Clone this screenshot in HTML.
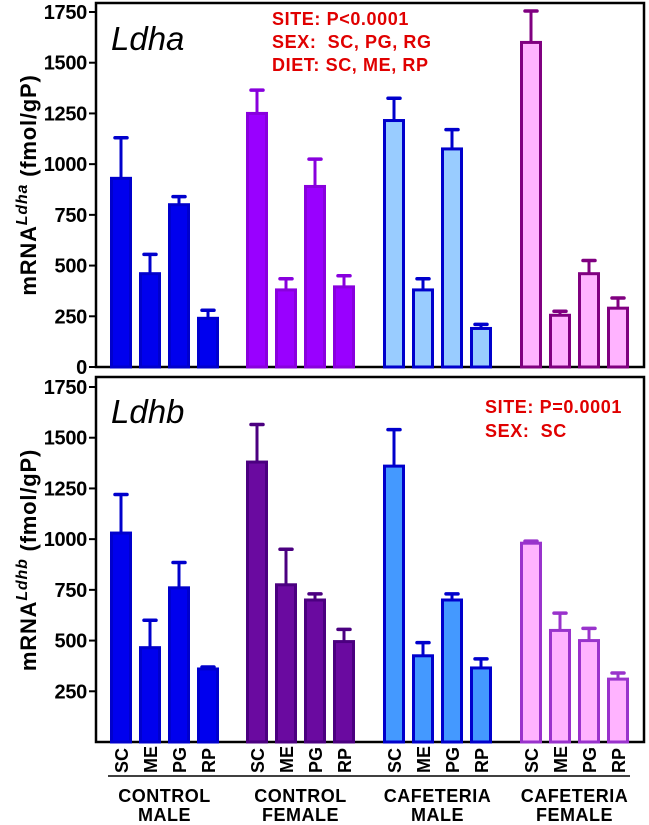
<!DOCTYPE html>
<html><head><meta charset="utf-8">
<style>
html,body{margin:0;padding:0;background:#fff;}
svg{display:block;font-family:"Liberation Sans",Arial,sans-serif;}
</style></head>
<body>
<svg id="chart" width="649" height="825" viewBox="0 0 649 825" xmlns="http://www.w3.org/2000/svg">
<rect x="96" y="3" width="548" height="364" fill="none" stroke="#000" stroke-width="2.5"/>
<rect x="96" y="377" width="548" height="365" fill="none" stroke="#000" stroke-width="2.5"/>
<text x="111" y="50" font-size="33" font-style="italic">Ldha</text>
<text x="111" y="423" font-size="33" font-style="italic">Ldhb</text>
<g fill="#e00000" font-weight="bold" font-size="18" letter-spacing="0.6">
<text x="272" y="25">SITE: P&lt;0.0001</text>
<text x="272" y="48">SEX:&#160; SC, PG, RG</text>
<text x="272" y="71">DIET: SC, ME, RP</text>
</g>
<g fill="#e00000" font-weight="bold" font-size="18" letter-spacing="0.6">
<text x="485" y="413">SITE: P=0.0001</text>
<text x="485" y="437">SEX:&#160; SC</text>
</g>
<text transform="translate(36,185) rotate(-90)" text-anchor="middle" font-weight="bold" font-size="22" letter-spacing="0.8">mRNA<tspan font-style="italic" font-size="16" dy="-9">Ldha</tspan><tspan dy="9"> (fmol/gP)</tspan></text>
<text transform="translate(36,560) rotate(-90)" text-anchor="middle" font-weight="bold" font-size="22" letter-spacing="0.8">mRNA<tspan font-style="italic" font-size="16" dy="-9">Ldhb</tspan><tspan dy="9"> (fmol/gP)</tspan></text>
<g id="plot"></g>
<line x1="108" y1="776" x2="630" y2="776" stroke="#000" stroke-width="1.5"/>
</svg>
<script>
const categories = ["SC","ME","PG","RP"];
const groups = ["CONTROL|MALE","CONTROL|FEMALE","CAFETERIA|MALE","CAFETERIA|FEMALE"];
const ldhaMeans = [[930,460,800,240],[1250,380,890,395],[1215,380,1075,190],[1600,255,460,290]];
const ldhaErr = [[200,95,40,40],[115,55,135,55],[110,55,95,20],[155,20,65,50]];
const ldhbMeans = [[1030,465,760,360],[1380,775,700,495],[1360,425,700,365],[980,550,500,310]];
const ldhbErr = [[190,135,125,10],[185,175,30,60],[180,65,30,45],[10,85,60,30]];
const yTicks = [0,250,500,750,1000,1250,1500,1750];

const NS="http://www.w3.org/2000/svg";
const plot=document.getElementById('plot');
const groupStart=[110,246,383,520], pitch=29, bw=22;
function mk(t,a){const e=document.createElementNS(NS,t);for(const k in a)e.setAttribute(k,a[k]);plot.appendChild(e);return e;}
const panels=[
 {base:367,name:'ldha',means:ldhaMeans,err:ldhaErr,
  styles:[{f:'#0000ee',s:'#0000cc'},{f:'#9900ff',s:'#8800dd'},{f:'#99ccff',s:'#0000cc'},{f:'#ffb3ff',s:'#800080'}]},
 {base:742,name:'ldhb',means:ldhbMeans,err:ldhbErr,
  styles:[{f:'#0000ee',s:'#0000cc'},{f:'#6a0aa0',s:'#4b0080'},{f:'#4499ff',s:'#0000cc'},{f:'#ffb3ff',s:'#9933cc'}]}
];
const k=355/1750;
panels.forEach(p=>{
 const y=v=>p.base-v*k;
 yTicks.forEach(t=>{
  if(p.name==='ldhb'&&t===0)return;
  const l=mk('line',{x1:89,x2:96,y1:y(t),y2:y(t),stroke:'#000','stroke-width':2});
  
  
  const tx=mk('text',{x:87,y:y(t)+7,'text-anchor':'end','font-size':20,'font-weight':'bold','letter-spacing':'-0.3'});
  tx.textContent=t;
  
  
 });
 p.means.forEach((g,gi)=>{
  const st=p.styles[gi];
  g.forEach((v,ci)=>{
   const x=groupStart[gi]+ci*pitch, cx=x+bw/2, top=y(v), et=y(v+p.err[gi][ci]);
   const el=mk('line',{x1:cx,x2:cx,y1:top,y2:et,stroke:st.s,'stroke-width':3});
   
   
   const cap=mk('line',{x1:cx-6,x2:cx+6,y1:et,y2:et,stroke:st.s,'stroke-width':3.5,'stroke-linecap':'round'});
   
   
   const r=mk('rect',{x:x+1.5,y:top,width:bw-3,height:p.base-top,fill:st.f,stroke:st.s,'stroke-width':3});
   
   
  });
 });
});
groups.forEach((g,gi)=>{
 categories.forEach((c,ci)=>{
  const cx=groupStart[gi]+ci*pitch+bw/2;
  const t=mk('text',{transform:`translate(${cx+7},773) rotate(-90)`,'font-size':18,'font-weight':'bold'});
  t.textContent=c;
  
  
 });
 const gx=groupStart[gi]+1.5*pitch+bw/2;
 const parts=g.split('|');
 parts.forEach((s,i)=>{
  const t=mk('text',{x:gx,y:802+i*19,'text-anchor':'middle','font-size':18,'font-weight':'bold','letter-spacing':'0.5'});
  t.textContent=s;
  
  
 });
});
</script>
</body></html>
